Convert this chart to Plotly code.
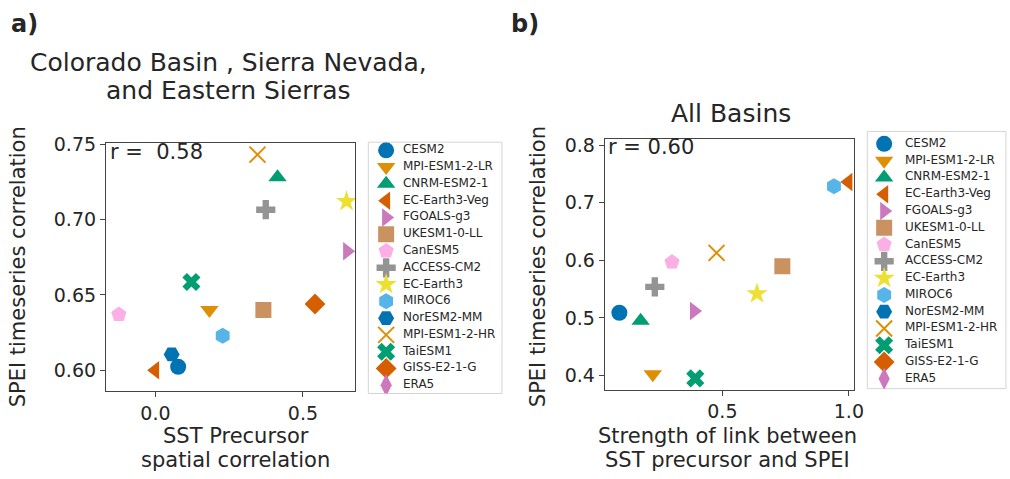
import plotly.graph_objects as go

models = ["CESM2", "MPI-ESM1-2-LR", "CNRM-ESM2-1", "EC-Earth3-Veg", "FGOALS-g3",
          "UKESM1-0-LL", "CanESM5", "ACCESS-CM2", "EC-Earth3", "MIROC6",
          "NorESM2-MM", "MPI-ESM1-2-HR", "TaiESM1", "GISS-E2-1-G", "ERA5"]
colors = ["#0173B2", "#DE8F05", "#029E73", "#D55E00", "#CC78BC",
          "#CA9161", "#FBAFE4", "#949494", "#ECE133", "#56B4E9",
          "#0173B2", "#DE8F05", "#029E73", "#D55E00", "#CC78BC"]
symbols = ["circle", "triangle-down", "triangle-up", "triangle-left", "triangle-right",
           "square", "pentagon", "cross", "star", "hexagon",
           "hexagon2", "x-thin-open", "x", "diamond", "diamond-tall"]

# Panel a: SST precursor spatial correlation vs SPEI timeseries correlation
a_x = [0.077, 0.183, 0.414, -0.001, 0.650, 0.366, -0.124, 0.374, 0.648, 0.228,
       0.055, 0.346, 0.122, 0.541, None]
a_y = [0.6024, 0.640, 0.728, 0.600, 0.679, 0.640, 0.637, 0.7065, 0.712, 0.623,
       0.6106, 0.743, 0.6586, 0.644, None]
# Panel b: strength of link vs SPEI timeseries correlation
b_x = [0.093, 0.225, 0.177, 0.998, 0.388, 0.737, 0.301, 0.233, 0.637, 0.941,
       None, 0.477, 0.393, None, None]
b_y = [0.509, 0.402, 0.495, 0.736, 0.512, 0.590, 0.597, 0.554, 0.542, 0.729,
       None, 0.613, 0.395, None, None]

r_a = "0.58"
r_b = "0.60"

FONT = "DejaVu Sans"
TXT = "#262626"
W, H = 1010, 479
MSIZE = 16

def px(x):
    return x / W

def py(y):
    return 1 - y / H

fig = go.Figure()
line_w = [2 if s.endswith("open") else 0 for s in symbols]
for i, m in enumerate(models):
    mk = dict(symbol=symbols[i], size=MSIZE, color=colors[i],
              line=dict(width=line_w[i], color=colors[i]))
    fig.add_trace(go.Scatter(x=[a_x[i]], y=[a_y[i]], mode="markers", name=m,
                             marker=mk, xaxis="x", yaxis="y", showlegend=False))
    fig.add_trace(go.Scatter(x=[b_x[i]], y=[b_y[i]], mode="markers", name=m,
                             marker=mk, xaxis="x2", yaxis="y2", showlegend=False))

# legend boxes drawn as small axes (entries indexed by position in models list)
idx = list(range(len(models)))
LEG_SP = 17.14
legends = [
    # (xaxis, yaxis, left, right, top, bottom, first_entry_y, marker_dx, text_dx)
    ("x3", "y3", 372, 507, 135, 391.7, 143.3, 18, 35),
    ("x4", "y4", 876, 1010, 124, 386.7, 136.7, 17, 38),
]
for xa, ya, l, r, t, b, e0, mdx, tdx in legends:
    fig.add_trace(go.Scatter(x=[mdx] * len(models), y=idx, mode="markers",
                             marker=dict(symbol=symbols, size=MSIZE, color=colors,
                                         line=dict(width=line_w, color=colors)),
                             xaxis=xa, yaxis=ya, showlegend=False, hoverinfo="skip"))
    fig.add_trace(go.Scatter(x=[tdx] * len(models), y=idx, mode="text", text=models,
                             textposition="middle right",
                             textfont=dict(family=FONT, size=12, color=TXT),
                             xaxis=xa, yaxis=ya, showlegend=False, hoverinfo="skip"))
    fig.add_shape(type="rect", xref="paper", yref="paper",
                  x0=px(l), x1=px(r + (6 if r >= W else 0)), y0=py(b), y1=py(t),
                  line=dict(color="#d4d4d4", width=1), layer="below")

axcommon = dict(showgrid=False, zeroline=False, showline=True, linecolor="#444",
                linewidth=1, mirror=True, ticks="outside", ticklen=5, tickcolor="#444",
                tickfont=dict(family=FONT, size=19, color=TXT))
hidden = dict(showgrid=False, zeroline=False, showline=False, showticklabels=False,
              ticks="", fixedrange=True)

layout_axes = {}
for k, (xa, ya, l, r, t, b, e0, mdx, tdx) in enumerate(legends):
    xn = "xaxis" + xa[1:]
    yn = "yaxis" + ya[1:]
    layout_axes[xn] = dict(domain=[px(l), min(1.0, px(r))], range=[0, r - l],
                           anchor=ya, **hidden)
    layout_axes[yn] = dict(domain=[py(b), py(t)],
                           range=[(b - e0) / LEG_SP, -(e0 - t) / LEG_SP],
                           anchor=xa, **hidden)

fig.update_layout(
    width=W, height=H, margin=dict(l=0, r=0, t=0, b=0),
    paper_bgcolor="white", plot_bgcolor="white",
    font=dict(family=FONT, color=TXT),
    showlegend=False,
    xaxis=dict(domain=[0.1059, 0.3554], range=[-0.168, 0.678], tickvals=[0.0, 0.5],
               ticktext=["0.0", "0.5"], anchor="y", **axcommon),
    yaxis=dict(domain=[0.1879, 0.716], range=[0.5864, 0.7506],
               tickvals=[0.60, 0.65, 0.70, 0.75], ticktext=["0.60", "0.65", "0.70", "0.75"],
               anchor="x", **axcommon),
    xaxis2=dict(domain=[0.6047, 0.8542], range=[0.035, 1.021], tickvals=[0.5, 1.0],
                ticktext=["0.5", "1.0"], anchor="y2", **axcommon),
    yaxis2=dict(domain=[0.1906, 0.7251], range=[0.3755, 0.811],
                tickvals=[0.4, 0.5, 0.6, 0.7, 0.8], ticktext=["0.4", "0.5", "0.6", "0.7", "0.8"],
                anchor="x2", **axcommon),
    **layout_axes,
)

def ann(text, x, y, size, **kw):
    d = dict(text=text, x=px(x), y=py(y), xref="paper", yref="paper", showarrow=False,
             font=dict(family=FONT, size=size, color=TXT), xanchor="center",
             yanchor="middle")
    d.update(kw)
    fig.add_annotation(**d)

ann("<b>a)</b>", 9, 14, 24, xanchor="left")
ann("<b>b)</b>", 514, 14, 24, xanchor="left")
ann("Colorado Basin , Sierra Nevada,", 231, 54, 25)
ann("and Eastern Sierras", 231, 82, 25)
ann("All Basins", 738, 106, 25)
ann("SPEI timeseries correlation", 18, 262, 21, textangle=-90)
ann("SPEI timeseries correlation", 543, 262, 21, textangle=-90)
ann("SST Precursor", 238, 435, 21)
ann("spatial correlation", 238, 460, 21)
ann("Strength of link between", 735, 435, 21)
ann("SST precursor and SPEI", 735, 460, 21)
ann("r =  " + r_a, 109, 145, 21, xanchor="left")
ann("r = " + r_b, 612, 140, 21, xanchor="left")

fig.write_html("out.html")
